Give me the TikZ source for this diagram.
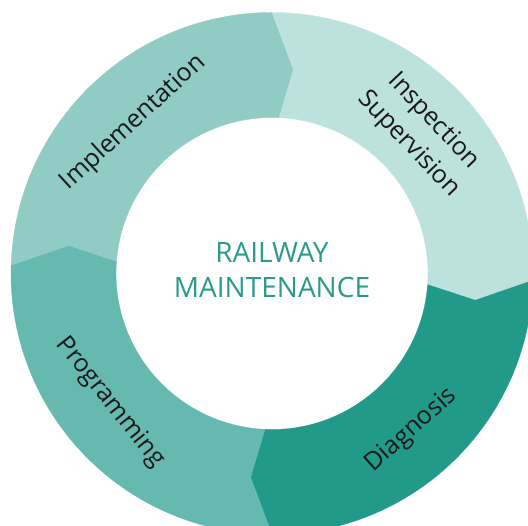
\documentclass[tikz,border=0pt]{standalone}
\usepackage{fontspec}
\setmainfont{Open Sans}
\usepackage{tikz}
\usetikzlibrary{calc,positioning}

\definecolor{implcol}{HTML}{90CBC4}
\definecolor{inspcol}{HTML}{BDE1DD}
\definecolor{diagcol}{HTML}{229A8A}
\definecolor{progcol}{HTML}{66B9AF}
\definecolor{titlecol}{HTML}{2A9A8B}

\begin{document}
\begin{tikzpicture}[x=1pt,y=1pt,
		part/.style={draw=#1,line width=0.3pt,fill=#1},
		lbl/.style={font=\fontsize{25}{34}\selectfont,text=black!90,align=center,inner sep=0pt}]
		\useasboundingbox (-272,-252.5) rectangle (256,273.5);
		\begin{scope}
			% ring parts, each one points clockwise into the next
			\path[part=implcol] (178.3:261) arc[start angle=178.3,end angle=90,radius=261]
				-- (84:205) -- (87.4:156) arc[start angle=87.4,end angle=175.7,radius=156]
				-- (172.3:205) -- cycle;
			\path[part=inspcol] (90:261) arc[start angle=90,end angle=-1.5,radius=261]
				-- (-7.5:205) -- (-4.1:156) arc[start angle=-4.1,end angle=87.4,radius=156]
				-- (84:205) -- cycle;
			\path[part=diagcol] (-1.5:261) arc[start angle=-1.5,end angle=-90,radius=261]
				-- (-96:205) -- (-92.6:156) arc[start angle=-92.6,end angle=-4.1,radius=156]
				-- (-7.5:205) -- cycle;
			\path[part=progcol] (-90:261) arc[start angle=-90,end angle=-181.7,radius=261]
				-- (-187.7:205) -- (-184.3:156) arc[start angle=-184.3,end angle=-92.6,radius=156]
				-- (-96:205) -- cycle;
			\node(title) at (0,3) [align=center,text=titlecol,font=\fontsize{28}{35}\selectfont] {RAILWAY\\MAINTENANCE};
			\node(impl) at (132.6:205) [lbl,rotate=42.6] {Implementation};
			\node(insp) at (43.4:205) [lbl,rotate=-46.6] {Inspection\\Supervision};
			\node(diag) at (-48.4:210) [lbl,rotate=41.6] {Diagnosis};
			\node(prog) at (-141.4:207) [lbl,rotate=-51.4] {Programming};
		\end{scope}
	\end{tikzpicture}
\end{document}
